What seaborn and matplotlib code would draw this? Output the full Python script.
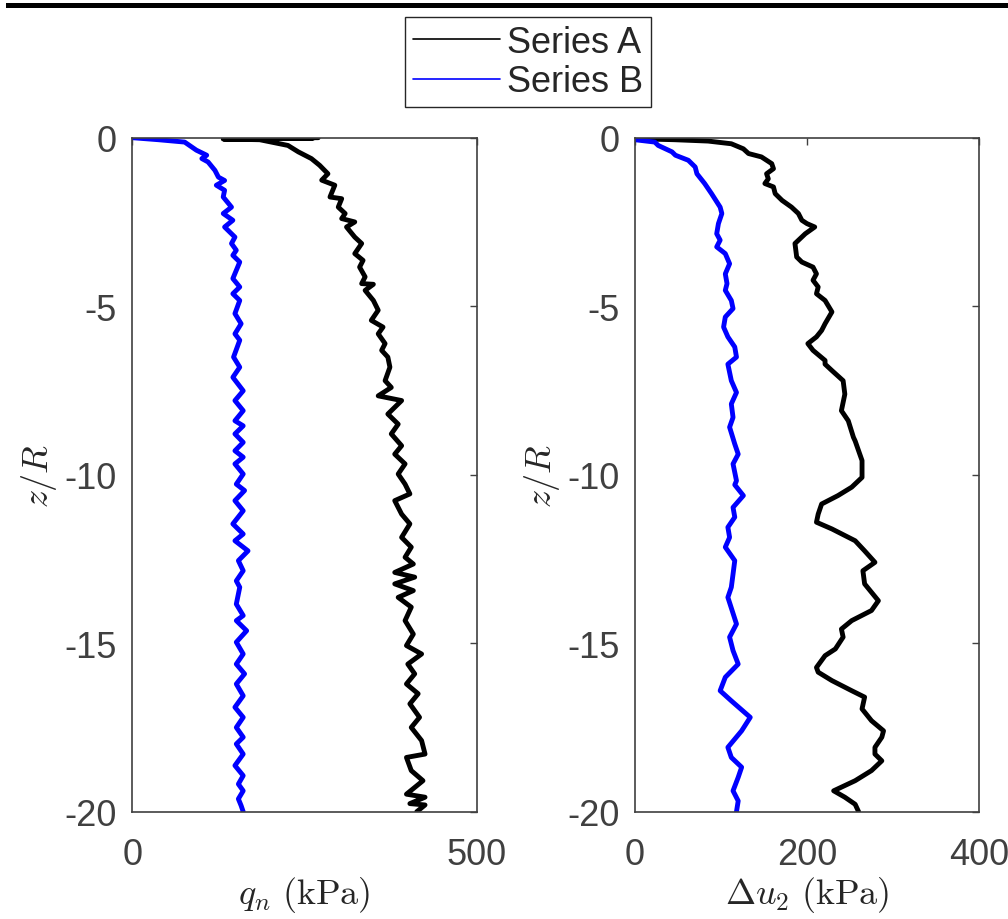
import numpy as np
import pandas as pd
import matplotlib.pyplot as plt
import seaborn as sns
from matplotlib.lines import Line2D
from matplotlib.patches import Rectangle

# DATA
# left panel: q_n (kPa) vs z/R
qn_a_z = [0.0, -0.01, -0.02, -0.04, -0.06, -0.23, -0.42, -0.62, -0.82, -1.07, -1.26, -1.41, -1.76, -1.81,
          -2.06, -2.25, -2.4, -2.5, -2.65, -2.95, -3.14, -3.44, -3.64, -3.84, -4.13, -4.33, -4.35,
          -4.53, -4.83, -5.12, -5.42, -5.62, -5.82, -6.11, -6.31, -6.51, -6.81, -7.21, -7.41, -7.66,
          -7.8, -8.2, -8.5, -8.79, -9.14, -9.39, -9.68, -9.98, -10.28, -10.57, -10.77, -11.17, -11.46,
          -11.86, -12.15, -12.45, -12.65, -12.9, -13.04, -13.24, -13.44, -13.64, -13.93, -14.33,
          -14.73, -15.07, -15.32, -15.62, -15.91, -16.21, -16.5, -16.8, -17.2, -17.5, -17.89, -18.29,
          -18.39, -18.78, -19.08, -19.48, -19.57, -19.76, -19.8, -20.0]
qn_a = [270, 140, 262, 132, 185, 226, 241, 260, 272, 284, 275, 294, 287, 304,
        299, 309, 304, 323, 311, 323, 333, 323, 335, 330, 338, 333, 350,
        338, 350, 357, 347, 364, 357, 367, 362, 371, 374, 367, 376, 357,
        391, 371, 386, 376, 391, 381, 396, 386, 396, 403, 381, 391, 403,
        391, 405, 396, 408, 381, 410, 381, 408, 386, 405, 396,
        408, 398, 420, 400, 410, 398, 415, 403, 417, 405, 420, 425,
        398, 405, 422, 398, 425, 403, 425, 413]

qn_b_z = [0.0, -0.06, -0.13, -0.37, -0.52, -0.62, -0.72, -0.97, -1.17, -1.27, -1.41, -1.56, -1.76,
          -2.06, -2.25, -2.45, -2.65, -2.95, -3.14, -3.34, -3.49, -3.69, -4.18, -4.43, -4.63, -4.83,
          -5.22, -5.52, -5.82, -6.01, -6.51, -6.81, -7.11, -7.51, -7.8, -8.1, -8.4, -8.55, -8.79,
          -9.04, -9.29, -9.48, -9.68, -9.98, -10.28, -10.47, -10.77, -11.07, -11.46, -11.76, -11.96,
          -12.26, -12.55, -12.85, -13.15, -13.34, -13.84, -14.18, -14.33, -14.63, -14.97, -15.32,
          -15.62, -15.91, -16.21, -16.56, -16.9, -17.2, -17.5, -17.79, -17.99, -18.29, -18.63,
          -18.93, -19.18, -19.38, -19.62, -19.82, -20.0]
qn_b = [0, 38, 76, 93, 108, 101, 110, 120, 125, 134, 122, 134, 132,
        144, 132, 146, 134, 149, 144, 151, 146, 156, 146, 156, 146, 156,
        149, 158, 149, 156, 147, 156, 146, 161, 149, 161, 149, 161, 149,
        161, 149, 161, 149, 161, 151, 163, 149, 161, 146, 161, 149,
        168, 154, 161, 151, 156, 151, 161, 151, 166, 151, 161,
        151, 163, 151, 161, 149, 161, 151, 161, 151, 161, 149,
        161, 154, 161, 154, 158, 161]

# right panel: Delta u_2 (kPa) vs z/R
du_a_z = [-0.03, -0.06, -0.1, -0.18, -0.33, -0.47, -0.57, -0.77, -0.92, -1.07, -1.22, -1.36, -1.46,
          -1.66, -1.86, -2.06, -2.25, -2.45, -2.55, -2.65, -2.85, -3.14, -3.54, -3.69, -3.84, -4.04,
          -4.23, -4.43, -4.63, -4.83, -5.17, -5.52, -5.72, -5.91, -6.11, -6.31, -6.61, -6.72, -6.91,
          -7.21, -7.61, -8.1, -8.4, -8.89, -9.0, -9.58, -10.08, -10.37, -10.62, -10.87, -11.17,
          -11.41, -11.61, -11.96, -12.26, -12.6, -12.85, -13.24, -13.74, -14.03, -14.33, -14.58,
          -14.82, -15.17, -15.37, -15.72, -15.86, -16.11, -16.41, -16.6, -16.95, -17.3, -17.6,
          -17.79, -18.09, -18.29, -18.49, -18.78, -19.08, -19.38, -19.57, -19.78, -20.0]
du_a = [0, 46, 85, 112, 126, 132, 147, 159, 161, 153, 155, 151, 161,
        163, 171, 182, 190, 194, 200, 209, 198, 186, 188, 194, 207, 211,
        207, 213, 211, 221, 229, 221, 217, 211, 201, 207, 221, 221, 229,
        242, 244, 240, 248, 254, 256, 264, 264, 252, 236, 217, 213,
        211, 229, 256, 267, 279, 265, 267, 283, 275, 252, 240,
        242, 233, 221, 211, 213, 229, 252, 267, 264, 275, 289,
        287, 279, 279, 287, 275, 256, 231, 244, 256, 260]

du_b_z = [-0.06, -0.13, -0.23, -0.42, -0.52, -0.67, -0.87, -1.07, -1.36, -1.66, -2.06, -2.25, -2.55,
          -2.85, -3.04, -3.24, -3.44, -3.74, -4.04, -4.33, -4.53, -4.83, -5.07, -5.32, -5.62, -5.91,
          -6.21, -6.51, -6.72, -7.21, -7.56, -7.9, -8.3, -8.59, -9.09, -9.39, -9.68, -10.18, -10.3,
          -10.62, -10.97, -11.26, -11.56, -11.86, -12.15, -12.55, -12.95, -13.34, -13.64, -14.43,
          -14.82, -15.22, -15.62, -16.01, -16.41, -16.71, -17.2, -17.6, -18.09, -18.39, -18.68,
          -18.98, -19.38, -19.68, -20.0]
du_b = [0, 23, 27, 43, 47, 62, 70, 72, 81, 89, 99, 101, 97,
        95, 99, 95, 105, 110, 105, 107, 105, 112, 114, 105, 103, 108,
        116, 118, 108, 112, 118, 112, 114, 110, 116, 120, 114, 118, 116,
        126, 114, 116, 108, 110, 105, 116, 114, 112, 108, 118,
        110, 114, 120, 105, 99, 112, 134, 124, 108, 112, 124,
        120, 114, 120, 118]

series_names = ['Series A', 'Series B']
series_colors = {'Series A': '#000000', 'Series B': '#0000ff'}

left_df = pd.concat([
    pd.DataFrame({'val': qn_a, 'z': qn_a_z, 'series': 'Series A'}),
    pd.DataFrame({'val': qn_b, 'z': qn_b_z, 'series': 'Series B'})], ignore_index=True)
right_df = pd.concat([
    pd.DataFrame({'val': du_a, 'z': du_a_z, 'series': 'Series A'}),
    pd.DataFrame({'val': du_b, 'z': du_b_z, 'series': 'Series B'})], ignore_index=True)

sns.set_style('white')
plt.rcParams['font.family'] = ['Liberation Sans', 'DejaVu Sans']
plt.rcParams['mathtext.fontset'] = 'cm'

W, H = 1008, 920
fig = plt.figure(figsize=(W / 100, H / 100), dpi=100)
ax1 = fig.add_axes([132.3 / W, 1 - 812.7 / H, 344.4 / W, 674 / H])
ax2 = fig.add_axes([635 / W, 1 - 812.7 / H, 344 / W, 674 / H])

gray = '#404040'
panels = [(ax1, left_df, [0, 500], [0, 500], r'$q_n\ (\mathrm{kPa})$'),
          (ax2, right_df, [0, 400], [0, 200, 400], r'$\Delta u_2\ (\mathrm{kPa})$')]
for ax, df, xl, xt, xlab in panels:
    sns.lineplot(data=df, x='val', y='z', hue='series', palette=series_colors,
                 sort=False, estimator=None, legend=False, lw=3.5, ax=ax)
    ax.set_xlim(xl)
    ax.set_ylim(-20, 0)
    ax.set_xticks(xt)
    ax.set_yticks([0, -5, -10, -15, -20])
    ax.set_yticklabels(['0', '-5', '-10', '-15', '-20'])
    ax.tick_params(direction='in', length=5, width=1, colors=gray, labelsize=26,
                   top=True, right=True)
    ax.tick_params(axis='y', pad=11)
    ax.tick_params(axis='x', pad=18)
    for s in ax.spines.values():
        s.set_color(gray)
        s.set_linewidth(1.2)
    ax.set_xlabel(xlab, fontsize=26, color='#262626', labelpad=2)
    ax.set_ylabel(r'$z/R$', fontsize=26, color='#262626', labelpad=4)

handles = [Line2D([], [], color=series_colors[n], lw=1.2) for n in series_names]
fig.legend(handles, series_names, loc='upper center', bbox_to_anchor=(528 / W, 1 - 18 / H),
           fontsize=26, frameon=True, fancybox=False, edgecolor='#262626', framealpha=1,
           handlelength=2.4, handletextpad=0.2, borderpad=0.22, labelspacing=0.12,
           borderaxespad=0)

# thick rule along the top edge
fig.add_artist(Rectangle((6 / W, 1 - 9 / H), 1 - 6 / W, 5 / H, transform=fig.transFigure,
                         color='black', lw=0))

fig.savefig('out.png', dpi=100)
